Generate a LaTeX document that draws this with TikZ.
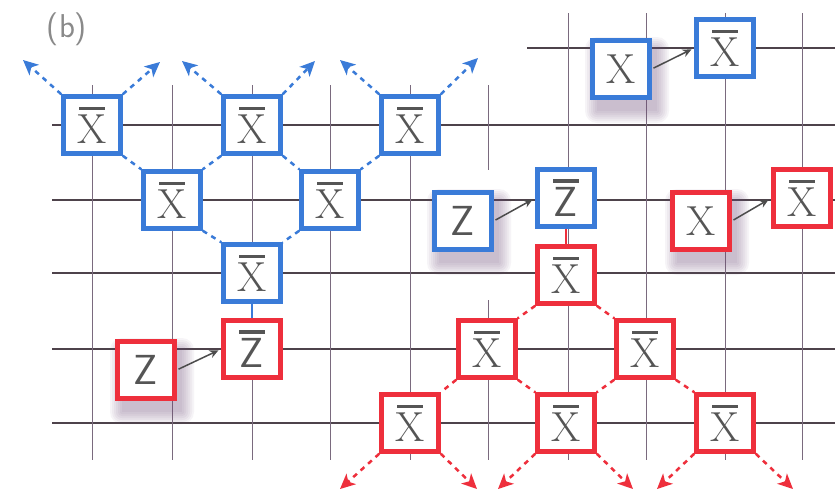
\documentclass[tikz,border=0pt]{standalone}
\usetikzlibrary{arrows.meta}
\definecolor{bbox}{HTML}{3A7BD8}
\definecolor{rbox}{HTML}{EE2F3C}
\definecolor{gridh}{HTML}{4E434B}
\definecolor{gridv}{HTML}{7A6A7E}
\definecolor{txt}{HTML}{555555}
\definecolor{shc}{HTML}{6E4A78}
\definecolor{lab}{HTML}{8A8A8A}
\newcommand{\barred}[1]{\vbox{\offinterlineskip\halign{\hfil##\hfil\cr\rule{26pt}{3.2pt}\cr\noalign{\kern5pt}#1\cr}}}
\newcommand{\shad}[2]{\foreach \r in {0,2,...,12}{\fill[shc,opacity=0.06,rounded corners=\r pt] (#1-24-\r,#2-20-\r) rectangle (#1+36+\r,#2+42+\r);}}
\begin{document}
\begin{tikzpicture}[x=1pt,y=-1pt,
  qbox/.style={draw=#1, line width=4.5pt, fill=white, minimum size=57pt, inner sep=0pt, text=txt, font=\fontsize{42}{48}\selectfont},
  cone/.style={draw=#1, dash pattern=on 5pt off 5pt, line width=2.5pt},
  conea/.style={cone=#1, -{Stealth[length=15pt,width=14pt,inset=4pt]}},
  gl/.style={draw=gridh, line width=1.1pt},
  vl/.style={draw=gridv, line width=1pt},
  link/.style={draw=#1, line width=2pt},
  op/.style={draw=black!70, line width=1.5pt, -{Stealth[length=9pt,width=8pt]}, shorten >=3pt, shorten <=2pt}]
\useasboundingbox (0,0) rectangle (835,496);
\fill[white] (0,0) rectangle (835,496);
% grid
\foreach \y in {125,200,273,349,423} \draw[gl] (52,\y) -- (835,\y);
\draw[gl] (527,48) -- (835,48);
\foreach \x in {92,172,252,330,410} \draw[vl] (\x,85) -- (\x,460);
\draw[vl] (488,85) -- (488,170);
\draw[vl] (488,300) -- (488,460);
\foreach \x in {568,646,725,802} \draw[vl] (\x,13) -- (\x,460);
% label
\node[text=lab, font=\sffamily\fontsize{33}{36}\selectfont] (lbl) at (67,29) {(b)};
% shadows
\shad{146}{370}
\shad{621}{69}
\shad{463}{221}
\shad{701}{221}
% blue cone
\node[qbox=bbox] (b1) at (92,125) {\barred{X}};
\node[qbox=bbox] (b2) at (252,125) {\barred{X}};
\node[qbox=bbox] (b3) at (410,125) {\barred{X}};
\node[qbox=bbox] (b4) at (172,200) {\barred{X}};
\node[qbox=bbox] (b5) at (330,200) {\barred{X}};
\node[qbox=bbox] (b6) at (252,273) {\barred{X}};
\node[qbox=rbox] (rZb) at (252,349) {\barred{\textsf{Z}}};
\node[qbox=rbox] (rZ) at (146,370) {\textsf{Z}};
% top right
\node[qbox=bbox] (bX) at (621,69) {X};
\node[qbox=bbox] (bXb) at (725,48) {\barred{X}};
\node[qbox=bbox] (bZ) at (463,221) {\textsf{Z}};
\node[qbox=bbox] (bZb) at (566,198) {\barred{\textsf{Z}}};
\node[qbox=rbox] (rX) at (701,221) {X};
\node[qbox=rbox] (rXb) at (802,198) {\barred{X}};
% red cone
\node[qbox=rbox] (r1) at (566,275) {\barred{X}};
\node[qbox=rbox] (r2) at (487,349) {\barred{X}};
\node[qbox=rbox] (r3) at (645,349) {\barred{X}};
\node[qbox=rbox] (r4) at (410,423) {\barred{X}};
\node[qbox=rbox] (r5) at (566,423) {\barred{X}};
\node[qbox=rbox] (r6) at (725,423) {\barred{X}};
% free ends
\coordinate (t1) at (23,60);
\coordinate (t2) at (160,62);
\coordinate (t3) at (182,61);
\coordinate (t4) at (315,61);
\coordinate (t5) at (340,60);
\coordinate (t6) at (478,58);
\coordinate (d1) at (340,489);
\coordinate (d2) at (477,489);
\coordinate (d3) at (498,489);
\coordinate (d4) at (633,489);
\coordinate (d5) at (657,489);
\coordinate (d6) at (793,489);
% blue dashed
\draw[cone=bbox] (b1.south east) -- (b4.north west);
\draw[cone=bbox] (b2.south west) -- (b4.north east);
\draw[cone=bbox] (b2.south east) -- (b5.north west);
\draw[cone=bbox] (b3.south west) -- (b5.north east);
\draw[cone=bbox] (b4.south east) -- (b6.north west);
\draw[cone=bbox] (b5.south west) -- (b6.north east);
\draw[conea=bbox] (b1.north west) -- (t1);
\draw[conea=bbox] (b1.north east) -- (t2);
\draw[conea=bbox] (b2.north west) -- (t3);
\draw[conea=bbox] (b2.north east) -- (t4);
\draw[conea=bbox] (b3.north west) -- (t5);
\draw[conea=bbox] (b3.north east) -- (t6);
% red dashed
\draw[cone=rbox] (r1.south west) -- (r2.north east);
\draw[cone=rbox] (r1.south east) -- (r3.north west);
\draw[cone=rbox] (r2.south west) -- (r4.north east);
\draw[cone=rbox] (r2.south east) -- (r5.north west);
\draw[cone=rbox] (r3.south west) -- (r5.north east);
\draw[cone=rbox] (r3.south east) -- (r6.north west);
\draw[conea=rbox] (r4.south west) -- (d1);
\draw[conea=rbox] (r4.south east) -- (d2);
\draw[conea=rbox] (r5.south west) -- (d3);
\draw[conea=rbox] (r5.south east) -- (d4);
\draw[conea=rbox] (r6.south west) -- (d5);
\draw[conea=rbox] (r6.south east) -- (d6);
% links
\draw[link=bbox] (b6.south) -- (rZb.north);
\draw[link=rbox] (bZb.south) -- (r1.north);
% operations
\draw[op] (rZ.east) -- (rZb.west);
\draw[op] (bX.east) -- (bXb.west);
\draw[op] (bZ.east) -- (bZb.west);
\draw[op] (rX.east) -- (rXb.west);
\end{tikzpicture}
\end{document}
